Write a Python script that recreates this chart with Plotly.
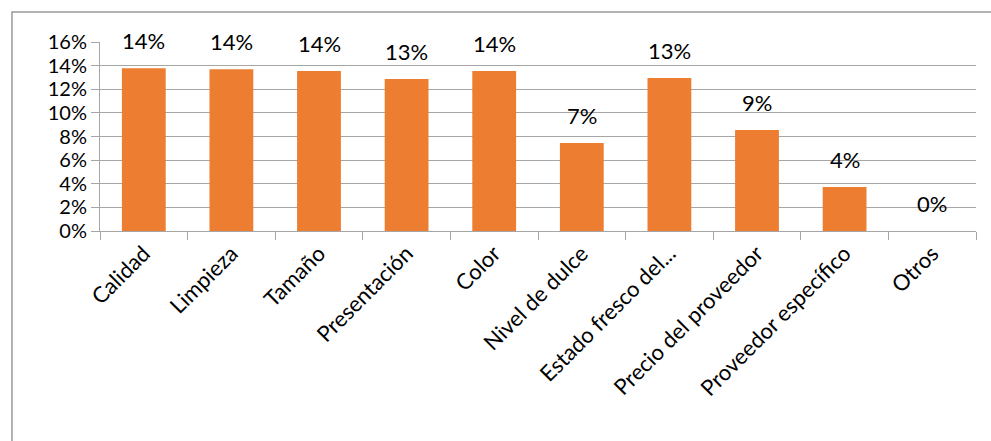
import plotly.graph_objects as go

# Criterios de compra y su peso relativo
categorias = ["Calidad", "Limpieza", "Tamaño", "Presentación", "Color",
              "Nivel de dulce", "Estado fresco del...", "Precio del proveedor",
              "Proveedor específico", "Otros"]
porcentajes = [0.1378, 0.1370, 0.1355, 0.1287, 0.1355,
               0.0745, 0.1295, 0.0855, 0.0373, 0.0]
ticks_y = [0, 0.02, 0.04, 0.06, 0.08, 0.10, 0.12, 0.14, 0.16]

FONT = "Lato, Calibri, Carlito, sans-serif"
NARANJA = "#ED7D31"
GRIS = "#a6a6a6"

fig = go.Figure(go.Bar(
    x=categorias, y=porcentajes,
    marker=dict(color=NARANJA, line=dict(width=0)),
    hoverinfo="skip",
))

# Etiquetas de valor sobre cada barra
for c, v in zip(categorias, porcentajes):
    fig.add_annotation(x=c, y=v, text=f"{v:.0%}", showarrow=False,
                       yanchor="bottom", yshift=12,
                       font=dict(family=FONT, size=22, color="#000000"))

# Marco exterior del gráfico
fig.add_shape(type="rect", xref="paper", yref="paper",
              x0=-0.1005, x1=1.03, y0=-1.2, y1=1.1587,
              line=dict(color="#9a9a9a", width=1.5), fillcolor="rgba(0,0,0,0)",
              layer="below")

fig.update_layout(
    width=991, height=441,
    margin=dict(l=100, r=15, t=42, b=210),
    paper_bgcolor="white", plot_bgcolor="white",
    bargap=0.5, showlegend=False,
    font=dict(family=FONT, color="#000000"),
    xaxis=dict(
        tickangle=-45, tickfont=dict(family=FONT, size=22),
        showgrid=False, showline=True, linecolor=GRIS, linewidth=1,
        ticks="outside", tickson="boundaries", ticklen=8, tickcolor=GRIS,
        zeroline=False,
    ),
    yaxis=dict(
        range=[0, 0.16], tickvals=ticks_y, tickformat=".0%",
        tickfont=dict(family=FONT, size=20),
        showgrid=True, gridcolor=GRIS, gridwidth=1,
        showline=True, linecolor=GRIS, linewidth=1,
        ticks="outside", ticklen=8, tickcolor=GRIS,
        zeroline=False,
    ),
)

fig.write_html("out.html")
